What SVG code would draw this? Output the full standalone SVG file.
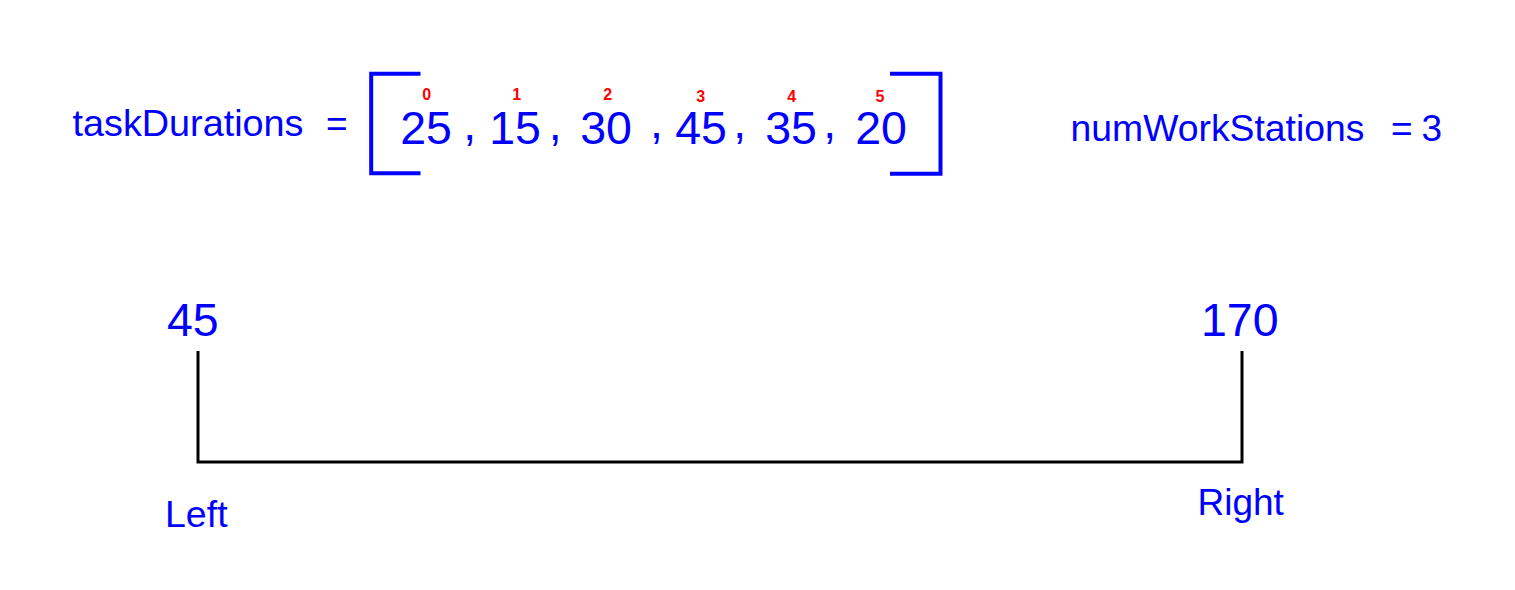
<svg xmlns="http://www.w3.org/2000/svg" width="1515" height="590" viewBox="0 0 1515 590">
<style>
  text { font-family: "Liberation Sans", Arial, Helvetica, sans-serif; }
  .lbl { fill: #0000FF; font-size: 37px; }
  .num { fill: #0000FF; font-size: 46.5px; text-anchor: middle; }
  .comma { fill: #0000FF; font-size: 46.5px; }
  .idx { fill: #FF0000; font-size: 16px; font-weight: bold; text-anchor: middle; }
  .brk { fill: none; stroke: #0000FF; stroke-width: 4; }
  .conn { fill: none; stroke: #000000; stroke-width: 3; }
</style>
<rect width="1515" height="590" fill="#FFFFFF"/>

<g id="taskDurations-label">
  <text class="lbl" x="72.5" y="135.5" textLength="231" lengthAdjust="spacingAndGlyphs">taskDurations</text>
  <text class="lbl" x="326" y="135.5">=</text>
</g>

<g id="array">
  <path class="brk" d="M420.5 73.7 H371.2 V173.3 H420.5"/>
  <path class="brk" d="M890 73.7 H940.5 V173.7 H890"/>
  <text class="num" x="426" y="144">25</text>
  <text class="num" x="515" y="144">15</text>
  <text class="num" x="606" y="144">30</text>
  <text class="num" x="701" y="144">45</text>
  <text class="num" x="791" y="144">35</text>
  <text class="num" x="881" y="144">20</text>
  <text class="comma" x="463.3" y="140">,</text>
  <text class="comma" x="548.7" y="140">,</text>
  <text class="comma" x="650" y="137.5">,</text>
  <text class="comma" x="733.3" y="137.5">,</text>
  <text class="comma" x="823.3" y="137.5">,</text>
  <text class="idx" x="426.7" y="100">0</text>
  <text class="idx" x="516.7" y="100">1</text>
  <text class="idx" x="607.7" y="100">2</text>
  <text class="idx" x="700.7" y="101.5">3</text>
  <text class="idx" x="791.7" y="101.5">4</text>
  <text class="idx" x="880" y="102">5</text>
</g>

<g id="numWorkStations-label">
  <text class="lbl" x="1070.5" y="141" textLength="294" lengthAdjust="spacingAndGlyphs">numWorkStations</text>
  <text class="lbl" x="1391" y="141">=</text>
  <text class="lbl" x="1421.5" y="141">3</text>
</g>

<g id="connectors">
  <path class="conn" d="M198 351 V462 H1242 V351"/>
</g>

<g id="left-value">
  <text class="comma" x="167" y="336">45</text>
</g>
<g id="right-value">
  <text class="comma" x="1201" y="336">170</text>
</g>
<g id="left-label">
  <text fill="#0000FF" font-size="37.5" x="165" y="527">Left</text>
</g>
<g id="right-label">
  <text fill="#0000FF" font-size="37" x="1197.5" y="515">Right</text>
</g>
</svg>
